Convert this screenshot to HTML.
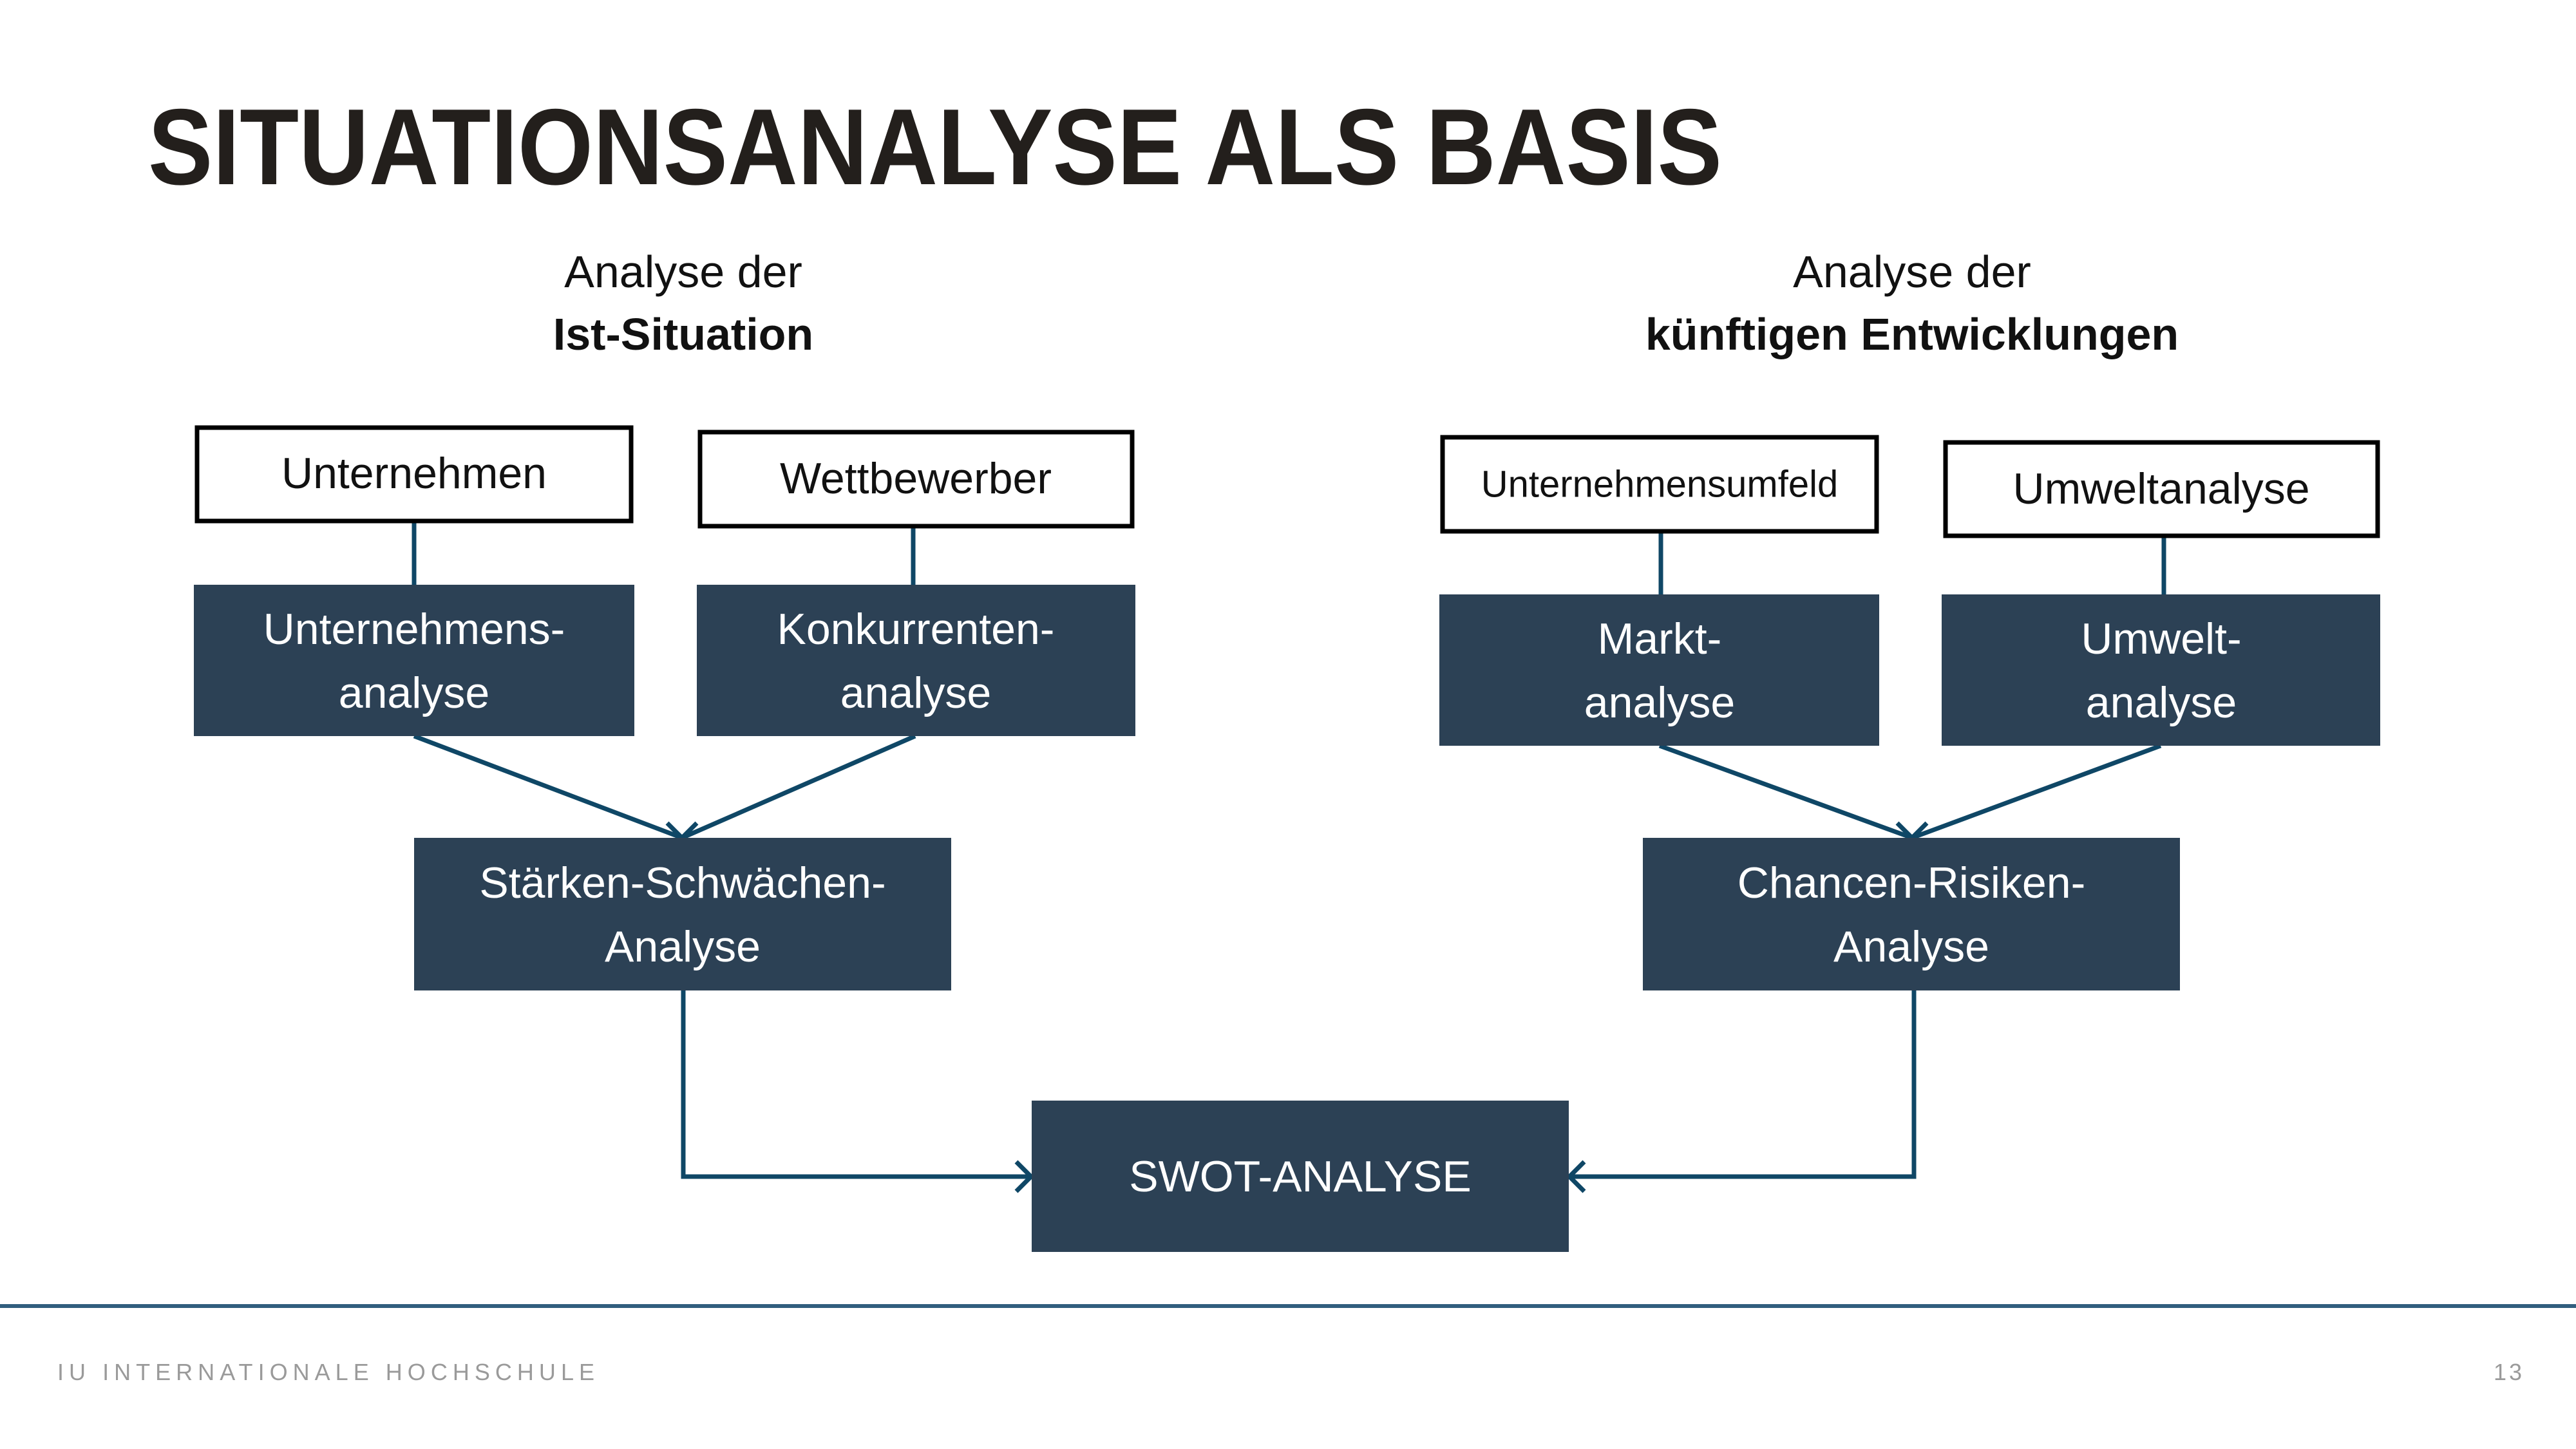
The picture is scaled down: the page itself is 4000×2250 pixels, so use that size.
<!DOCTYPE html>
<html><head><meta charset="utf-8"><style>
html,body{margin:0;padding:0;background:#fff;}
svg{display:block;}
text{font-family:"Liberation Sans",sans-serif;}
</style></head><body>
<svg width="4000" height="2250" viewBox="0 0 4000 2250" xmlns="http://www.w3.org/2000/svg">
<defs>
<marker id="a" markerWidth="12" markerHeight="12" refX="9" refY="6" orient="auto" markerUnits="userSpaceOnUse" viewBox="0 0 12 12">
</marker>
</defs>
<rect width="4000" height="2250" fill="#fff"/>
<text x="230" y="286" font-size="168" font-weight="bold" fill="#231f1c" textLength="2444" lengthAdjust="spacingAndGlyphs">SITUATIONSANALYSE ALS BASIS</text>

<g font-size="70" fill="#111" text-anchor="middle">
<text x="1061" y="446">Analyse der</text>
<text x="1061" y="543" font-weight="bold">Ist-Situation</text>
<text x="2969" y="446">Analyse der</text>
<text x="2969" y="543" font-weight="bold">künftigen Entwicklungen</text>
</g>

<!-- connectors -->
<g stroke="#0f4766" stroke-width="7" fill="none">
<line x1="643" y1="811" x2="643" y2="908"/>
<line x1="1418" y1="819" x2="1418" y2="908"/>
<line x1="2579" y1="827" x2="2579" y2="923"/>
<line x1="3360" y1="834" x2="3360" y2="923"/>
<line x1="643" y1="1143" x2="1059" y2="1301"/>
<line x1="1421" y1="1143" x2="1059" y2="1301"/>
<line x1="2577" y1="1158" x2="2969" y2="1301"/>
<line x1="3355" y1="1158" x2="2969" y2="1301"/>
<polyline points="1036,1278 1059,1301 1082,1278"/>
<polyline points="2946,1278 2969,1301 2992,1278"/>
<polyline points="1061,1538 1061,1827 1600,1827"/>
<polyline points="1578,1804 1601,1827 1578,1850"/>
<polyline points="2972,1538 2972,1827 2438,1827"/>
<polyline points="2460,1804 2437,1827 2460,1850"/>
</g>

<!-- white boxes -->
<g fill="#fff" stroke="#000" stroke-width="7">
<rect x="306" y="664" width="674" height="145"/>
<rect x="1087" y="671" width="671" height="146"/>
<rect x="2240" y="679" width="674" height="146"/>
<rect x="3021" y="687" width="671" height="145"/>
</g>
<g font-size="68" fill="#111" text-anchor="middle" dominant-baseline="central">
<text x="643" y="735">Unternehmen</text>
<text x="1422" y="743">Wettbewerber</text>
<text x="2577" y="752" font-size="58">Unternehmensumfeld</text>
<text x="3356" y="759">Umweltanalyse</text>
</g>

<!-- dark boxes -->
<g fill="#2c4155">
<rect x="301" y="908" width="684" height="235"/>
<rect x="1082" y="908" width="681" height="235"/>
<rect x="2235" y="923" width="683" height="235"/>
<rect x="3015" y="923" width="681" height="235"/>
<rect x="643" y="1301" width="834" height="237"/>
<rect x="2551" y="1301" width="834" height="237"/>
<rect x="1602" y="1709" width="834" height="235"/>
</g>
<g font-size="68" fill="#fff" text-anchor="middle" dominant-baseline="central">
<text x="643" y="977">Unternehmens-</text>
<text x="643" y="1076">analyse</text>
<text x="1422" y="977">Konkurrenten-</text>
<text x="1422" y="1076">analyse</text>
<text x="2577" y="992">Markt-</text>
<text x="2577" y="1091">analyse</text>
<text x="3356" y="992">Umwelt-</text>
<text x="3356" y="1091">analyse</text>
<text x="1060" y="1371">Stärken-Schwächen-</text>
<text x="1060" y="1470">Analyse</text>
<text x="2968" y="1371">Chancen-Risiken-</text>
<text x="2968" y="1470">Analyse</text>
<text x="2019" y="1827">SWOT-ANALYSE</text>
</g>

<rect x="0" y="2025" width="4000" height="6" fill="#315e7e"/>
<g font-size="36" fill="#9a9a9a">
<text x="89" y="2143" textLength="834" lengthAdjust="spacing">IU INTERNATIONALE HOCHSCHULE</text>
<text x="3872" y="2143" textLength="44" lengthAdjust="spacing">13</text>
</g>
</svg>
</body></html>
